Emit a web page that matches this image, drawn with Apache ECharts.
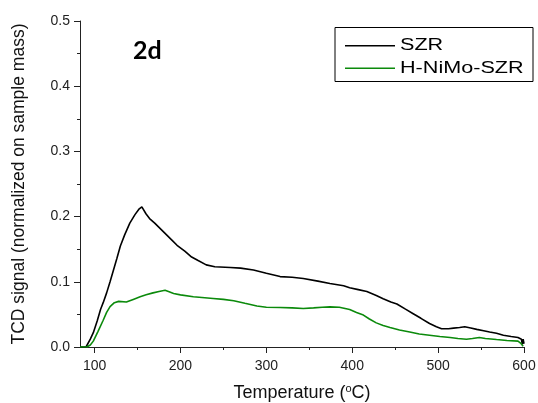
<!DOCTYPE html>
<html>
<head>
<meta charset="utf-8">
<script src="https://cdn.jsdelivr.net/npm/echarts@6/dist/echarts.min.js"></script>
<style>html,body{margin:0;padding:0;background:#fff}#c{width:538px;height:403px}</style>
</head>
<body>
<div id="c"></div>
<script>
const seriesNames = ['SZR', 'H-NiMo-SZR'];
const szrT = [83, 90, 92, 95, 98.5, 103, 107, 110, 114, 118, 122, 126, 130, 135, 141, 147, 152, 155, 157, 160, 164, 170, 180, 190, 196, 205, 213, 220, 230, 240, 258, 270, 285, 300, 316, 330, 343, 360, 374, 390, 397, 407, 417, 428, 436, 445, 452, 462, 471, 480, 490, 498, 504, 512, 518, 525, 531, 538, 545, 553, 560, 568, 576, 585, 593, 597, 598, 599, 600];
const szrV = [0, 0, 0.003, 0.012, 0.022, 0.040, 0.058, 0.068, 0.083, 0.100, 0.118, 0.136, 0.155, 0.172, 0.190, 0.203, 0.212, 0.215, 0.213, 0.204, 0.197, 0.190, 0.177, 0.164, 0.156, 0.147, 0.138, 0.133, 0.126, 0.123, 0.122, 0.121, 0.118, 0.113, 0.108, 0.107, 0.105, 0.101, 0.0975, 0.094, 0.091, 0.088, 0.085, 0.079, 0.074, 0.069, 0.066, 0.058, 0.051, 0.044, 0.036, 0.031, 0.028, 0.028, 0.029, 0.030, 0.031, 0.029, 0.027, 0.025, 0.023, 0.021, 0.018, 0.016, 0.0145, 0.012, 0.004, 0.012, 0.005];
const nimoT = [83, 91, 95, 98.5, 104, 110, 114, 118, 123, 128, 137, 145, 153, 160, 168, 175, 182, 186, 192, 200, 215, 225, 238, 250, 262, 275, 289, 300, 316, 330, 343, 355, 365, 374, 385, 397, 405, 413, 420, 428, 436, 444, 455, 467, 478, 490, 502, 514, 523, 533, 540, 548, 555, 568, 580, 593, 596, 599];
const nimoV = [0, 0, 0.003, 0.009, 0.024, 0.041, 0.053, 0.062, 0.068, 0.070, 0.069, 0.073, 0.077, 0.080, 0.083, 0.085, 0.087, 0.085, 0.082, 0.080, 0.077, 0.076, 0.0745, 0.073, 0.071, 0.067, 0.063, 0.061, 0.0606, 0.060, 0.059, 0.060, 0.061, 0.0615, 0.061, 0.0575, 0.053, 0.049, 0.043, 0.037, 0.033, 0.030, 0.026, 0.023, 0.020, 0.018, 0.016, 0.0145, 0.013, 0.012, 0.013, 0.0145, 0.013, 0.0114, 0.010, 0.009, 0.006, 0.001];
const xMajorTicks = [100, 200, 300, 400, 500, 600];
const xMinorTicks = [150, 250, 350, 450, 550];
const yTicks = [0, 0.1, 0.2, 0.3, 0.4, 0.5];

const toPairs = (t, v) => t.map((x, i) => [x, v[i]]);
const colors = ['#000000', '#0b8a0b'];
const font = 'Liberation Sans, Arial, sans-serif';
const axisColor = '#222';

const chart = echarts.init(document.getElementById('c'), null, {renderer: 'canvas'});
chart.setOption({
  animation: false,
  backgroundColor: '#fff',
  grid: {left: 80, right: 14, top: 21, bottom: 56, containLabel: false, outerBoundsMode: 'none'},
  xAxis: [{
    type: 'value', min: 83, max: 600,
    axisLine: {lineStyle: {color: axisColor, width: 1}},
    axisTick: {customValues: xMajorTicks, length: 6, inside: false, lineStyle: {color: axisColor}},
    axisLabel: {customValues: xMajorTicks, fontSize: 14, color: '#222', fontFamily: font, margin: 12},
    splitLine: {show: false},
    name: '{a|Temperature (}{s|o}{a|C)}', nameLocation: 'middle', nameGap: 36,
    nameTextStyle: {rich: {a: {fontSize: 18, fontFamily: font, color: '#111'}, s: {fontSize: 11, fontFamily: font, color: '#111', verticalAlign: 'top', padding: [0, 0, 9, 0]}}}
  }, {
    type: 'value', min: 83, max: 600, position: 'bottom', offset: 0,
    axisLine: {show: true, lineStyle: {color: axisColor, width: 1}},
    axisTick: {show: true, customValues: xMinorTicks, length: 3, lineStyle: {color: axisColor}},
    axisLabel: {show: false, customValues: xMinorTicks},
    splitLine: {show: false}
  }],
  yAxis: {
    type: 'value', min: 0, max: 0.5, interval: 0.1,
    axisLine: {show: true, lineStyle: {color: axisColor, width: 1}},
    axisTick: {show: true, length: 6, lineStyle: {color: axisColor}},
    minorTick: {show: true, splitNumber: 2, length: 3, lineStyle: {color: axisColor}},
    axisLabel: {fontSize: 14, color: '#222', fontFamily: font, margin: 10, formatter: v => v.toFixed(1)},
    splitLine: {show: false},
    name: 'TCD signal (normalized on sample mass)', nameLocation: 'middle', nameGap: 52,
    nameTextStyle: {fontSize: 17.5, fontFamily: font, color: '#111'}
  },
  series: [
    {name: seriesNames[0], type: 'line', data: toPairs(szrT, szrV), showSymbol: false, lineStyle: {color: colors[0], width: 1.6}, itemStyle: {color: colors[0]}},
    {name: seriesNames[1], type: 'line', data: toPairs(nimoT, nimoV), showSymbol: false, lineStyle: {color: colors[1], width: 1.6}, itemStyle: {color: colors[1]}}
  ],
  graphic: [
    {type: 'rect', shape: {x: 335, y: 27.5, width: 198, height: 54}, style: {fill: '#fff', stroke: '#000', lineWidth: 1}, z: 100},
    {type: 'line', shape: {x1: 345, y1: 45.7, x2: 395, y2: 45.7}, style: {stroke: colors[0], lineWidth: 1.5}, z: 101},
    {type: 'line', shape: {x1: 345, y1: 68.3, x2: 395, y2: 68.3}, style: {stroke: colors[1], lineWidth: 1.5}, z: 101},
    {type: 'text', x: 400, y: 46, scaleX: 1.35, z: 101, style: {text: seriesNames[0], x: 0, y: 0, fontSize: 16, fontFamily: font, fill: '#000', verticalAlign: 'middle', align: 'left'}},
    {type: 'text', x: 400, y: 69, scaleX: 1.35, z: 101, style: {text: seriesNames[1], x: 0, y: 0, fontSize: 16, fontFamily: font, fill: '#000', verticalAlign: 'middle', align: 'left'}},
    {type: 'text', x: 133, y: 51, z: 101, style: {text: '2d', fontSize: 25, fontWeight: 'bold', fontFamily: 'Lato, Open Sans, sans-serif', fill: '#000', verticalAlign: 'middle', align: 'left'}}
  ]
});
</script>
</body>
</html>
